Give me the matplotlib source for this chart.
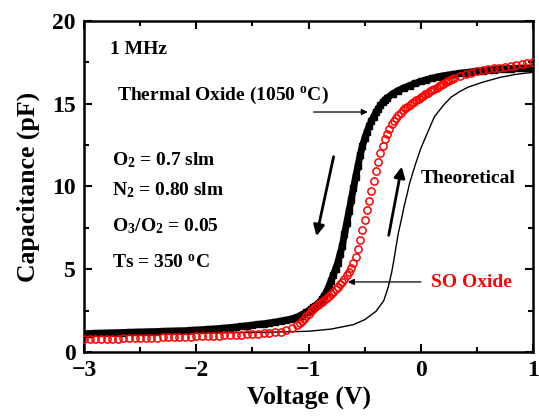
import matplotlib
matplotlib.use("Agg")
import matplotlib.pyplot as plt
from matplotlib.ticker import MultipleLocator

plt.rcParams['font.family'] = ['Liberation Serif', 'DejaVu Serif']
plt.rcParams['font.weight'] = 'bold'
plt.rcParams['mathtext.fontset'] = 'custom'
plt.rcParams['mathtext.rm'] = 'Liberation Serif:bold'
plt.rcParams['mathtext.it'] = 'Liberation Serif:bold'
plt.rcParams['mathtext.bf'] = 'Liberation Serif:bold'

# Thermal oxide (black squares)
thermal_v = [-3.00, -2.95, -2.90, -2.85, -2.80, -2.75, -2.70, -2.65, -2.60, -2.55, -2.50, -2.45,
             -2.40, -2.35, -2.30, -2.25, -2.20, -2.15, -2.10, -2.05, -2.00, -1.95, -1.90, -1.85,
             -1.80, -1.75, -1.70, -1.65, -1.60, -1.55, -1.50, -1.45, -1.40, -1.35, -1.30, -1.25,
             -1.20, -1.15,
             -1.10, -1.08, -1.06, -1.04, -1.02, -1.00, -0.98, -0.96, -0.94, -0.92, -0.90, -0.88,
             -0.86, -0.84, -0.82, -0.80, -0.78, -0.76, -0.74, -0.72, -0.70, -0.68, -0.66, -0.64,
             -0.62, -0.60, -0.58, -0.56, -0.54, -0.52, -0.50, -0.48, -0.46, -0.44, -0.42, -0.40,
             -0.38, -0.36, -0.34, -0.32, -0.30,
             -0.25, -0.20, -0.15, -0.10, -0.05, 0.00, 0.05, 0.10, 0.15, 0.20, 0.25, 0.30, 0.35,
             0.40, 0.45, 0.50, 0.55, 0.60, 0.65, 0.70, 0.75, 0.80, 0.85, 0.90, 0.95, 1.00]
thermal_c = [1.10, 1.11, 1.12, 1.13, 1.14, 1.15, 1.16, 1.17, 1.18, 1.19, 1.20, 1.21,
             1.22, 1.23, 1.24, 1.25, 1.26, 1.27, 1.28, 1.30, 1.32, 1.34, 1.36, 1.38,
             1.41, 1.44, 1.47, 1.50, 1.54, 1.58, 1.62, 1.66, 1.70, 1.75, 1.80, 1.86,
             1.92, 2.00,
             2.10, 2.17, 2.25, 2.32, 2.40, 2.49, 2.58, 2.69, 2.80, 2.90, 3.00, 3.20,
             3.40, 3.65, 3.95, 4.30, 4.65, 5.00, 5.40, 5.90, 6.40, 7.10, 7.80, 8.50,
             9.20, 9.90, 10.60, 11.25, 11.90, 12.45, 12.90, 13.30, 13.65, 13.95, 14.22, 14.48,
             14.70, 14.90, 15.08, 15.22, 15.35,
             15.60, 15.80, 15.96, 16.10, 16.23, 16.35, 16.45, 16.54, 16.62, 16.69, 16.74, 16.79, 16.84,
             16.88, 16.92, 16.96, 16.99, 17.02, 17.05, 17.08, 17.10, 17.12, 17.13, 17.14, 17.15, 17.15]

# SO oxide (red open circles)
so_v = [-3.00, -2.95, -2.90, -2.85, -2.80, -2.75, -2.70, -2.65, -2.60, -2.55, -2.50, -2.45,
        -2.40, -2.35, -2.30, -2.25, -2.20, -2.15, -2.10, -2.05, -2.00, -1.95, -1.90, -1.85,
        -1.80, -1.75, -1.70, -1.65, -1.60, -1.55, -1.50, -1.45, -1.40, -1.35, -1.30, -1.25,
        -1.20, -1.15,
        -1.10, -1.08, -1.06, -1.04, -1.02, -1.00, -0.98, -0.96, -0.94, -0.92, -0.90, -0.88,
        -0.86, -0.84, -0.82, -0.80, -0.78, -0.76, -0.74, -0.72, -0.70, -0.68, -0.66, -0.64,
        -0.62, -0.60, -0.58, -0.56, -0.54, -0.52, -0.50, -0.48, -0.46, -0.44, -0.42, -0.40,
        -0.38, -0.36, -0.34, -0.32, -0.30, -0.28, -0.26, -0.24, -0.22, -0.20, -0.18, -0.16,
        -0.14, -0.12, -0.10, -0.08, -0.06, -0.04, -0.02, 0.00, 0.02, 0.04, 0.06, 0.08,
        0.10, 0.12, 0.14, 0.16, 0.18, 0.20, 0.22, 0.24, 0.26, 0.28, 0.30,
        0.35, 0.40, 0.45, 0.50, 0.55, 0.60, 0.65, 0.70, 0.75, 0.80, 0.85, 0.90, 0.95, 1.00]
so_c = [0.78, 0.78, 0.79, 0.79, 0.80, 0.81, 0.81, 0.82, 0.83, 0.84, 0.84, 0.85,
        0.86, 0.87, 0.88, 0.89, 0.90, 0.91, 0.92, 0.93, 0.94, 0.95, 0.96, 0.98,
        0.99, 1.00, 1.01, 1.03, 1.04, 1.06, 1.08, 1.10, 1.12, 1.15, 1.18, 1.23,
        1.30, 1.43,
        1.62, 1.72, 1.85, 2.00, 2.15, 2.30, 2.45, 2.58, 2.70, 2.82, 2.93, 3.04,
        3.15, 3.26, 3.38, 3.50, 3.64, 3.78, 3.93, 4.08, 4.24, 4.42, 4.62, 4.85,
        5.10, 5.40, 5.75, 6.20, 6.75, 7.35, 7.95, 8.55, 9.10, 9.75, 10.35, 10.95,
        11.50, 12.00, 12.45, 12.85, 13.20, 13.50, 13.75, 13.97, 14.15, 14.32, 14.47, 14.60,
        14.72, 14.83, 14.93, 15.03, 15.12, 15.21, 15.30, 15.39, 15.48, 15.57, 15.66, 15.75,
        15.83, 15.91, 15.98, 16.06, 16.14, 16.22, 16.30, 16.38, 16.45, 16.51, 16.56,
        16.66, 16.78, 16.88, 16.96, 17.03, 17.08, 17.14, 17.19, 17.25, 17.30, 17.35, 17.40, 17.45, 17.50]

# Theoretical (thin black line)
theo_v = [-3.0, -2.0, -1.5, -1.0, -0.8, -0.6, -0.5, -0.4, -0.33, -0.29, -0.26, -0.24, -0.22,
          -0.2, -0.17, -0.15, -0.12, -0.1, -0.05, 0.0, 0.05, 0.12, 0.2, 0.27, 0.35, 0.42,
          0.55, 0.71, 0.85, 1.0]
theo_c = [1.12, 1.14, 1.17, 1.25, 1.38, 1.65, 1.95, 2.45, 3.1, 3.93, 4.8, 5.56, 6.4,
          7.19, 8.1, 8.76, 9.6, 10.2, 11.3, 12.3, 13.1, 14.2, 14.9, 15.4, 15.75, 16.0,
          16.3, 16.6, 16.78, 16.9]

fig = plt.figure(figsize=(5.39, 4.16), dpi=100)
ax = fig.add_axes([0.156, 0.154, 0.833, 0.7955])

ax.plot(thermal_v, thermal_c, color='black', lw=5.0, marker='s', ms=5, zorder=2)
ax.plot(theo_v, theo_c, color='black', lw=1.0, zorder=3)
ax.plot(so_v, so_c, linestyle='none', marker='o', ms=5.2, mfc='none', mec='red', mew=1.1, zorder=5)

ax.set_xlim(-3, 1)
ax.set_ylim(0, 20)
ax.xaxis.set_major_locator(MultipleLocator(1))
ax.xaxis.set_minor_locator(MultipleLocator(0.5))
ax.yaxis.set_major_locator(MultipleLocator(5))
ax.yaxis.set_minor_locator(MultipleLocator(2.5))
ax.tick_params(which='both', direction='in', top=True, right=True, width=1.5,
               labelsize=17, pad=6)
ax.tick_params(which='major', length=6)
ax.tick_params(which='minor', length=3.5)
for s in ax.spines.values():
    s.set_linewidth(1.8)
for lab in ax.get_xticklabels() + ax.get_yticklabels():
    lab.set_fontweight('bold')

ax.set_xlabel('Voltage (V)', fontsize=18.5, fontweight='bold', labelpad=3)
ax.set_ylabel('Capacitance (pF)', fontsize=18.5, fontweight='bold', labelpad=9)

fs = 14
ax.text(-2.77, 18.25, '1 MHz', fontsize=fs, fontweight='bold', va='center', ha='left')
ax.text(-2.71, 15.5, 'Thermal Oxide (1050 $^{\\rm o}$C)', fontsize=fs, fontweight='bold',
        va='center', ha='left')
ax.text(-2.75, 11.6, 'O$_2$ = 0.7 slm', fontsize=fs, fontweight='bold', va='center', ha='left')
ax.text(-2.75, 9.8, 'N$_2$ = 0.80 slm', fontsize=fs, fontweight='bold', va='center', ha='left')
ax.text(-2.75, 7.6, 'O$_3$/O$_2$ = 0.05', fontsize=fs, fontweight='bold', va='center', ha='left')
ax.text(-2.75, 5.4, 'Ts = 350 $^{\\rm o}$C', fontsize=fs, fontweight='bold', va='center', ha='left')
ax.text(0.0, 10.5, 'Theoretical', fontsize=fs, fontweight='bold', va='center', ha='left')
ax.text(0.09, 4.2, 'SO Oxide', fontsize=fs, fontweight='bold', va='center', ha='left', color='red')

thin = dict(arrowstyle='-|>', color='black', lw=0.9, mutation_scale=9, shrinkA=0, shrinkB=0)
ax.annotate('', xy=(-0.473, 14.5), xytext=(-0.955, 14.5), arrowprops=thin)
ax.annotate('', xy=(-0.65, 4.23), xytext=(0.0, 4.23), arrowprops=thin)

thick = dict(arrowstyle='-|>', color='black', lw=2.0, mutation_scale=16, shrinkA=0, shrinkB=0)
ax.annotate('', xy=(-0.93, 7.0), xytext=(-0.777, 11.8), arrowprops=thick)
ax.annotate('', xy=(-0.17, 11.2), xytext=(-0.286, 7.05), arrowprops=thick)

fig.savefig('out.png', dpi=100)
